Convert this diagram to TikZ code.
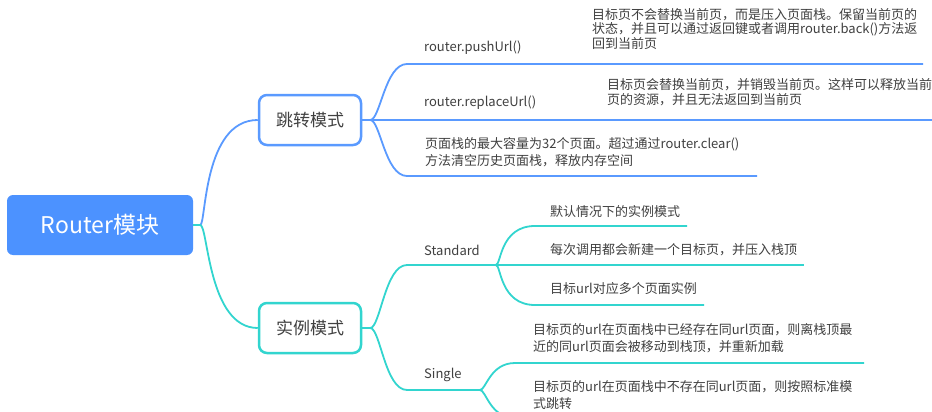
\documentclass[tikz,border=0pt]{standalone}
\usepackage{fontspec}
\setmainfont{Noto Sans CJK SC}
\definecolor{rootfill}{RGB}{76,146,255}
\definecolor{lineblue}{RGB}{90,154,255}
\definecolor{tealc}{RGB}{50,213,207}
\definecolor{textgray}{RGB}{64,64,64}
\begin{document}
\begin{tikzpicture}[x=1pt,y=-1pt,
  txt/.style={anchor=west,inner sep=0pt,text=textgray,font=\fontsize{13}{15}\selectfont,align=left},
  lbl/.style={anchor=west,inner sep=0pt,text=textgray,font=\fontsize{13}{15}\selectfont},
  bline/.style={draw=lineblue,line width=1.8pt},
  tline/.style={draw=tealc,line width=1.8pt},
  branch/.style={rectangle,rounded corners=8pt,line width=2.5pt,fill=white,minimum width=102pt,minimum height=50pt,text=textgray,font=\fontsize{17}{20}\selectfont},
  rootbox/.style={rectangle,rounded corners=6pt,fill=rootfill,minimum width=186pt,minimum height=60pt,text=white,font=\fontsize{23}{26}\selectfont}]
\useasboundingbox (0,0) rectangle (932,412);
\fill[white] (0,0) rectangle (932,412);
\clip (0,0) rectangle (932,412);

% coordinates
\coordinate (u1) at (407,64);  \coordinate (u1e) at (923,64);
\coordinate (u2e) at (932,120);
\coordinate (u3) at (407,176); \coordinate (u3e) at (757,176);
\coordinate (s1) at (407,265); \coordinate (sj) at (496,265);
\coordinate (c1) at (535,226); \coordinate (c1e) at (687,226);
\coordinate (c2e) at (804,265);
\coordinate (c3) at (535,305); \coordinate (c3e) at (704,305);
\coordinate (s2) at (407,390); \coordinate (gj) at (480,390);
\coordinate (d1) at (515,363); \coordinate (d1e) at (864,363);
\coordinate (d2) at (515,418); \coordinate (d2e) at (864,418);

% nodes
\node[rootbox] (root) at (100,225) {Router模块};
\node[branch,draw=lineblue] (b1) at (310,120) {跳转模式};
\node[branch,draw=tealc] (b2) at (310,328) {实例模式};

\node[lbl] (push) at (424,48) {router.pushUrl()};
\node[txt,font=\fontsize{13}{14.2}\selectfont] (pushd) at (592,29) {目标页不会替换当前页，而是压入页面栈。保留当前页的\\状态，并且可以通过返回键或者调用router.back()方法返\\回到当前页};
\node[lbl] (repl) at (424,103) {router.replaceUrl()};
\node[txt] (repld) at (607,92.5) {目标页会替换当前页，并销毁当前页。这样可以释放当前\\页的资源，并且无法返回到当前页};
\node[txt,font=\fontsize{13}{17}\selectfont] (clr) at (425,152.5) {页面栈的最大容量为32个页面。超过通过router.clear()\\方法清空历史页面栈，释放内存空间};

\node[lbl] (std) at (424,250) {Standard};
\node[txt] (std1) at (550,212) {默认情况下的实例模式};
\node[txt] (std2) at (550,250) {每次调用都会新建一个目标页，并压入栈顶};
\node[txt] (std3) at (550,289) {目标url对应多个页面实例};

\node[lbl] (sgl) at (424,375) {Single};
\node[txt,font=\fontsize{13}{16.7}\selectfont] (sg1) at (533,338.5) {目标页的url在页面栈中已经存在同url页面，则离栈顶最\\近的同url页面会被移动到栈顶，并重新加载};
\node[txt,font=\fontsize{13}{16.7}\selectfont] (sg2) at (533,395) {目标页的url在页面栈中不存在同url页面，则按照标准模\\式跳转};

% root connectors
\draw[bline] (root.east) -- ++(7,0) .. controls +(6,0) and +(-55,0) .. (b1.west);
\draw[tline] (root.east) -- ++(7,0) .. controls +(8,0) and +(-50,0) .. (b2.west);

% branch 1
\draw[bline] (b1.east) -- ++(8,0) coordinate (j1);
\draw[bline] (j1) .. controls +(10,0) and +(-22,0) .. (u1) -- (u1e);
\draw[bline] (j1) -- (u2e);
\draw[bline] (j1) .. controls +(10,0) and +(-22,0) .. (u3) -- (u3e);

% branch 2
\draw[tline] (b2.east) -- ++(8,0) coordinate (j2);
\draw[tline] (j2) .. controls +(10,0) and +(-22,0) .. (s1) -- (sj);
\draw[tline] (sj) .. controls +(5,0) and +(-35,0) .. (c1) -- (c1e);
\draw[tline] (sj) -- (c2e);
\draw[tline] (sj) .. controls +(5,0) and +(-35,0) .. (c3) -- (c3e);
\draw[tline] (j2) .. controls +(10,0) and +(-22,0) .. (s2) -- (gj);
\draw[tline] (gj) .. controls +(6,0) and +(-25,0) .. (d1) -- (d1e);
\draw[tline] (gj) .. controls +(6,0) and +(-25,0) .. (d2) -- (d2e);
\end{tikzpicture}
\end{document}
